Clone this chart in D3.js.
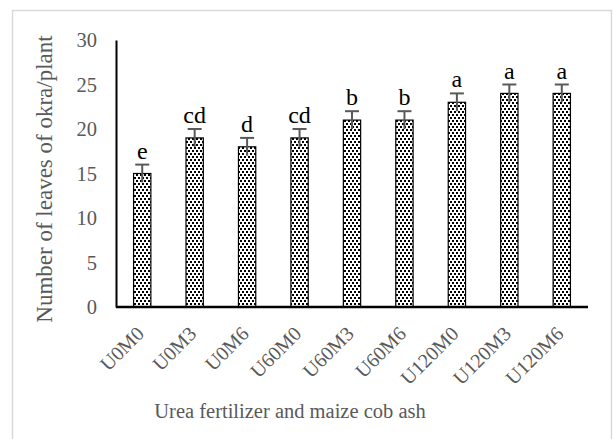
<!DOCTYPE html>
<html>
<head>
<meta charset="utf-8">
<title></title>
<style>
  body { margin: 0; background: #fff; }
  text { font-family: "Liberation Serif", "Times New Roman", serif; }
</style>
</head>
<body>
<svg id="chart" width="613" height="439"></svg>
<script src="https://d3js.org/d3.v7.min.js"></script>
<script>
// treatments and leaf counts
var treatments = ["U0M0", "U0M3", "U0M6", "U60M0", "U60M3", "U60M6", "U120M0", "U120M3", "U120M6"];
var leaves = [15, 19, 18, 19, 21, 21, 23, 24, 24];
var errors = [1, 1, 1, 1, 1, 1, 1, 1, 1];
var letters = ["e", "cd", "d", "cd", "b", "b", "a", "a", "a"];
var yTicks = [0, 5, 10, 15, 20, 25, 30];

var svg = d3.select("#chart");

// outer frame
svg.append("rect")
    .attr("x", 12.5).attr("y", 10.5)
    .attr("width", 599).attr("height", 440)
    .attr("fill", "none").attr("stroke", "#d9d9d9").attr("stroke-width", 1.5);

// dotted fill like the excel pattern
var defs = svg.append("defs");
var pat = defs.append("pattern")
    .attr("id", "dots").attr("patternUnits", "userSpaceOnUse")
    .attr("width", 4).attr("height", 6);
pat.append("rect").attr("width", 4).attr("height", 6).attr("fill", "#fff");
pat.append("rect").attr("x", 0).attr("y", 0).attr("width", 2).attr("height", 2).attr("fill", "#000");
pat.append("rect").attr("x", 2).attr("y", 3).attr("width", 2).attr("height", 2).attr("fill", "#000");

// plot area (note: "top" is reserved on window)
var pLeft = 116, pRight = 588, pTop = 40, pBottom = 307;

var x = d3.scaleBand().domain(treatments).range([pLeft, pRight]).paddingInner(0.67).paddingOuter(0.335);
var y = d3.scaleLinear().domain([0, 30]).range([pBottom, pTop]);

// bars
svg.selectAll("rect.bar")
    .data(leaves)
    .enter()
    .append("rect")
    .attr("class", "bar")
    .attr("x", function(d, i) { return x(treatments[i]); })
    .attr("y", function(d) { return y(d); })
    .attr("width", x.bandwidth())
    .attr("height", function(d) { return y(0) - y(d); })
    .attr("fill", "url(#dots)")
    .attr("stroke", "#000").attr("stroke-width", 1.2);

// error bars
var eb = svg.selectAll("g.err")
    .data(leaves)
    .enter()
    .append("g")
    .attr("class", "err")
    .attr("stroke", "#595959").attr("stroke-width", 2);
eb.append("line")
    .attr("x1", function(d, i) { return x(treatments[i]) + x.bandwidth() / 2; })
    .attr("x2", function(d, i) { return x(treatments[i]) + x.bandwidth() / 2; })
    .attr("y1", function(d, i) { return y(d - errors[i]); })
    .attr("y2", function(d, i) { return y(d + errors[i]); });
eb.append("line")
    .attr("x1", function(d, i) { return x(treatments[i]) + x.bandwidth() / 2 - 7; })
    .attr("x2", function(d, i) { return x(treatments[i]) + x.bandwidth() / 2 + 7; })
    .attr("y1", function(d, i) { return y(d + errors[i]); })
    .attr("y2", function(d, i) { return y(d + errors[i]); });

// significance letters
svg.selectAll("text.letter")
    .data(letters)
    .enter()
    .append("text")
    .attr("class", "letter")
    .attr("x", function(d, i) { return x(treatments[i]) + x.bandwidth() / 2; })
    .attr("y", function(d, i) { return y(leaves[i] + errors[i]) - 6; })
    .attr("text-anchor", "middle")
    .attr("font-size", 24)
    .attr("fill", "#000")
    .text(function(d) { return d; });

// axes
var yAxis = svg.append("g")
    .attr("transform", "translate(" + pLeft + ",0)")
    .call(d3.axisLeft(y).tickValues(yTicks).tickSize(0).tickPadding(19));
yAxis.select(".domain").attr("stroke", "#000").attr("stroke-width", 2);
yAxis.selectAll("text").attr("font-size", 20.5).attr("fill", "#595959")
    .attr("font-family", "Liberation Serif");

var xAxis = svg.append("g")
    .attr("transform", "translate(0," + pBottom + ")")
    .call(d3.axisBottom(x).tickSize(0).tickPadding(0));
xAxis.select(".domain").attr("stroke", "#000").attr("stroke-width", 2.5).attr("d", "M" + pLeft + ",0H" + pRight);
xAxis.selectAll("text")
    .attr("font-size", 20).attr("fill", "#595959")
    .attr("font-family", "Liberation Serif")
    .attr("text-anchor", "end")
    .attr("dy", 0)
    .attr("transform", "translate(3,28) rotate(-45)");

// axis titles
svg.append("text")
    .attr("transform", "translate(52,179) rotate(-90)")
    .attr("text-anchor", "middle")
    .attr("font-size", 23).attr("fill", "#595959")
    .text("Number of leaves of okra/plant");

svg.append("text")
    .attr("x", 290).attr("y", 418)
    .attr("text-anchor", "middle")
    .attr("font-size", 20.5).attr("fill", "#595959")
    .text("Urea fertilizer and maize cob ash");
</script>
</body>
</html>
